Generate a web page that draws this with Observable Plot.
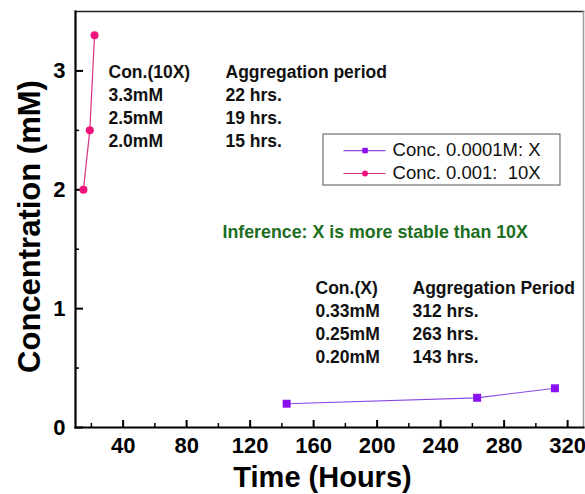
<!DOCTYPE html>
<html><head><meta charset="utf-8">
<script src="https://cdn.jsdelivr.net/npm/d3@7"></script>
<script src="https://cdn.jsdelivr.net/npm/@observablehq/plot@0.6"></script>
<style>body{margin:0;background:#fff} svg{display:block}</style>
</head><body><div id="chart"></div>
<script>
// ---- data ----
const seriesNames = ["Conc. 0.0001M: X", "Conc. 0.001:\u00a0 10X"];
const timeX = [143, 263, 312];
const concX = [0.20, 0.25, 0.33];
const time10X = [15, 19, 22];
const conc10X = [2.0, 2.5, 3.3];
const xTicks = [40, 80, 120, 160, 200, 240, 280, 320];
const xMinorTicks = [20, 60, 100, 140, 180, 220, 260, 300];
const yTicks = [0, 1, 2, 3];
const yMinorTicks = [0.5, 1.5, 2.5];
const table10XConc = ["Con.(10X)", "3.3mM", "2.5mM", "2.0mM"];
const table10XPeriod = ["Aggregation period", "22 hrs.", "19 hrs.", "15 hrs."];
const tableXConc = ["Con.(X)", "0.33mM", "0.25mM", "0.20mM"];
const tableXPeriod = ["Aggregation Period", "312 hrs.", "263 hrs.", "143 hrs."];
const inference = ["Inference: X is more stable than 10X"];
const xLabel = ["Time (Hours)"];
const yLabel = ["Concentration (mM)"];

// ---- tables built from arrays ----
const dataX = timeX.map((t, i) => ({time: t, conc: concX[i]}));
const data10X = time10X.map((t, i) => ({time: t, conc: conc10X[i]}));

const purpleLine = "#8a48e6", purpleDot = "#8a10f2";
const pinkLine = "#d8307e", pinkDot = "#f0127a";
const font = "'Liberation Sans', Arial, sans-serif";

const tableText = (lines, x, y) => Plot.text([lines.join("\n")], {
  x, y, text: d => d, textAnchor: "start", lineAnchor: "top",
  fontSize: 17.5, fontWeight: "bold", lineHeight: 1.32, fill: "#111"
});

const legendRows = [
  {name: seriesNames[0], y: 2.33, line: purpleLine, dot: purpleDot, symbol: "square", r: 3.6},
  {name: seriesNames[1], y: 2.137, line: pinkLine, dot: pinkDot, symbol: "circle", r: 3.3}
];

const chart = Plot.plot({
  width: 585,
  height: 494,
  marginLeft: 75,
  marginRight: 2,
  marginTop: 11,
  marginBottom: 67,
  style: {fontFamily: font, background: "#fff", color: "#000"},
  x: {domain: [10, 330]},
  y: {domain: [0, 3.5]},
  marks: [
    // frame
    Plot.frame({anchor: "top", stroke: "#222", strokeWidth: 1.5}),
    Plot.frame({anchor: "right", stroke: "#9a9a9a", strokeWidth: 1.5}),
    // inward ticks
    Plot.tickX(xTicks, {x: d => d, insetTop: 416 - 7, strokeWidth: 2}),
    Plot.tickX(xMinorTicks, {x: d => d, insetTop: 416 - 4, strokeWidth: 1.5}),
    Plot.tickY(yTicks, {y: d => d, insetRight: 508 - 8, strokeWidth: 2}),
    Plot.tickY(yMinorTicks, {y: d => d, insetRight: 508 - 4, strokeWidth: 1.5}),
    Plot.frame({anchor: "left", strokeWidth: 2.2}),
    Plot.frame({anchor: "bottom", strokeWidth: 2.2}),
    // axes labels
    Plot.axisX(xTicks, {tickSize: 0, tickPadding: 10, fontSize: 22, fontWeight: "bold", label: null, tickFormat: d3.format("d")}),
    Plot.axisY(yTicks, {tickSize: 0, tickPadding: 10, fontSize: 22, fontWeight: "bold", label: null, tickFormat: d3.format("d")}),
    Plot.text(xLabel, {text: d => d, frameAnchor: "bottom", dy: 50, dx: -7, fontSize: 29, fontWeight: "bold", textAnchor: "middle", lineAnchor: "middle"}),
    Plot.text(yLabel, {text: d => d, frameAnchor: "left", rotate: -90, dx: -45, dy: 7, fontSize: 31, fontWeight: "bold", textAnchor: "middle", lineAnchor: "middle"}),
    // series
    Plot.line(dataX, {x: "time", y: "conc", stroke: purpleLine, strokeWidth: 1.2}),
    Plot.dot(dataX, {x: "time", y: "conc", symbol: "square", fill: purpleDot, r: 4.5}),
    Plot.line(data10X, {x: "time", y: "conc", stroke: pinkLine, strokeWidth: 1.2}),
    Plot.dot(data10X, {x: "time", y: "conc", symbol: "circle", fill: pinkDot, r: 4}),
    // annotations
    tableText(table10XConc, 30.8, 3.08),
    tableText(table10XPeriod, 104.5, 3.08),
    tableText(tableXConc, 161.2, 1.262),
    tableText(tableXPeriod, 222.3, 1.262),
    Plot.text(inference, {text: d => d, x: 102.6, y: 1.64, textAnchor: "start", lineAnchor: "middle", fontSize: 17.8, fontWeight: "bold", fill: "#1d6e22"}),
    // legend
    Plot.rect([0], {x1: 166.2, x2: 315.5, y1: 2.036, y2: 2.465, fill: "#fff", stroke: "#555", strokeWidth: 1}),
    Plot.link(legendRows, {x1: 178.8, x2: 205.3, y1: "y", y2: "y", stroke: "line", strokeWidth: 1.2}),
    Plot.dot(legendRows, {x: 192.4, y: "y", symbol: "symbol", fill: "dot", r: "r"}),
    Plot.text(legendRows, {x: 209.7, y: "y", text: "name", textAnchor: "start", lineAnchor: "middle", fontSize: 18.5, fill: "#111"})
  ]
});
document.getElementById("chart").appendChild(chart);
</script>
</body></html>
